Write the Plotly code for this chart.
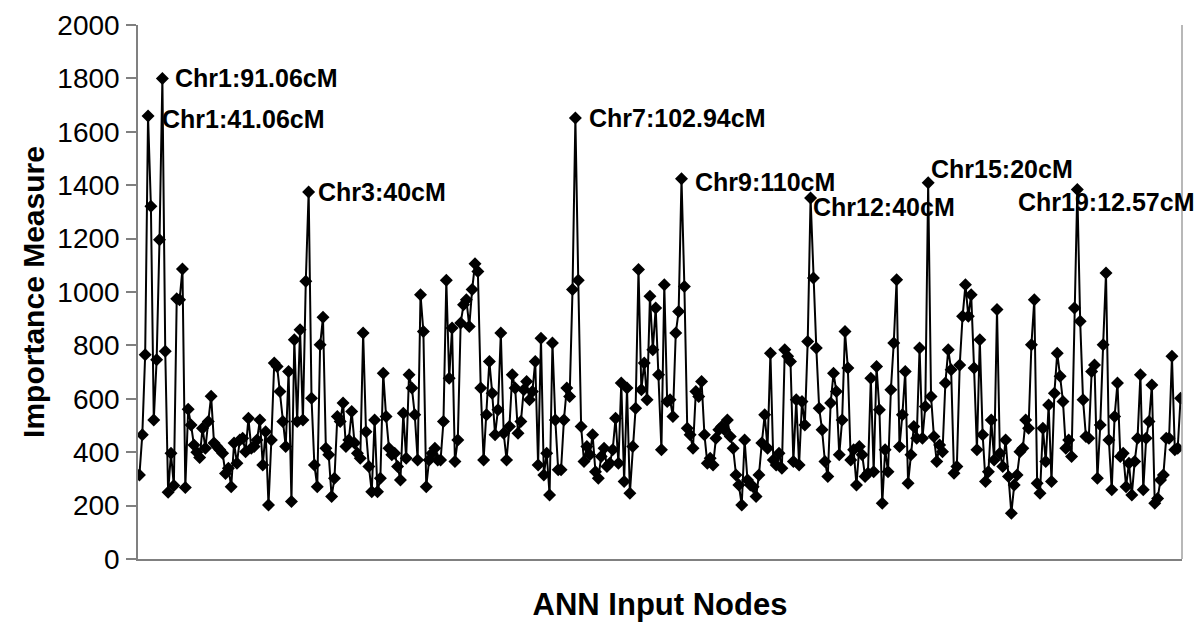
import plotly.graph_objects as go

# Importance measure per ANN input node, read left to right in blocks
block_a = [315, 465, 765, 1659, 1321, 521, 746, 1196, 1800, 778, 250, 396, 275, 975, 971,
           1086, 268, 561, 502, 427, 400, 380, 490, 415, 515, 610, 434, 421, 409, 396]
block_b = [320, 340, 271, 434, 359, 446, 452, 402, 527, 415, 421, 446, 521, 352, 477,
           202, 446, 734, 721, 627, 515, 421, 702, 215, 821, 515, 859, 521, 1040, 1375,
           602, 352, 271, 802, 905]
block_c = [415, 390, 234, 302, 534, 515, 584, 421, 446, 552, 434, 396, 377, 846, 477,
           346, 252, 521, 252, 302, 696, 534, 415, 390, 396, 346, 296, 546, 377, 690,
           640, 540, 371, 990, 852]
block_d = [271, 371, 396, 415, 371, 371, 515, 1044, 677, 865, 365, 446, 884, 952, 971,
           871, 1009, 1106, 1077, 640, 371, 540, 740, 621, 465, 559, 846, 471, 371, 496,
           690, 640]
block_e = [471, 515, 634, 665, 596, 627, 740, 352, 827, 315, 396, 240, 809, 521, 334,
           334, 521, 640, 609, 1009, 1652, 1044, 496, 365, 421, 390, 465, 327, 302, 384,
           415, 346]
block_f = [359, 409, 527, 359, 659, 290, 640, 246, 421, 565, 1084, 634, 734, 596, 984,
           784, 940, 690, 409, 1027, 590, 596, 534, 846, 927, 1424, 1021, 490, 465, 415,
           627, 609, 665, 465]
block_g = [359, 377, 352, 452, 484, 496, 484, 521, 459, 415, 315, 277, 202, 446, 296,
           277, 271, 234, 315, 434, 540, 415, 771, 371, 352, 396, 340, 784, 759, 740,
           365, 596]
block_h = [352, 590, 502, 815, 1352, 1052, 790, 565, 484, 365, 309, 584, 696, 627, 390,
           521, 852, 715, 371, 409, 277, 421, 390, 309, 321, 677, 327, 721, 559, 209,
           409, 327, 634, 809, 1046]
block_i = [421, 540, 702, 284, 390, 496, 452, 790, 452, 571, 1409, 609, 459, 365, 427,
           402, 659, 784, 709, 321, 346, 727, 909, 1027, 909, 990, 715, 409, 821, 465,
           290, 327, 521]
block_j = [371, 934, 396, 346, 446, 309, 171, 277, 315, 402, 415, 521, 490, 802, 971,
           284, 246, 490, 365, 577, 290, 621, 771, 684, 590, 415, 446, 384, 940, 1384,
           890, 596, 459]
block_k = [452, 702, 727, 302, 502, 802, 1071, 446, 259, 534, 659, 384, 396, 271, 359,
           240, 365, 452, 690, 259, 452, 515, 652, 209, 227, 296, 315, 452, 452, 759,
           409, 415, 602]

importance = (block_a + block_b + block_c + block_d + block_e + block_f + block_g +
              block_h + block_i + block_j + block_k)
nodes = list(range(1, len(importance) + 1))

# Labelled peaks (node number, label)
peak_nodes = [9, 4, 60, 153, 190, 235, 276, 328]
peak_labels = ["Chr1:91.06cM", "Chr1:41.06cM", "Chr3:40cM", "Chr7:102.94cM",
               "Chr9:110cM", "Chr12:40cM", "Chr15:20cM", "Chr19:12.57cM"]
y_ticks = [0, 200, 400, 600, 800, 1000, 1200, 1400, 1600, 1800, 2000]

# label offsets in pixels (style)
label_shift = [(11, 0), (12, -3), (7, 0), (12, 0), (11, -3), (0, -9), (1, 14), (-61, -13)]

fig = go.Figure()
fig.add_trace(go.Scatter(
    x=nodes, y=importance, mode="lines+markers",
    line=dict(color="black", width=2),
    marker=dict(symbol="diamond", size=10, color="black"),
    showlegend=False, hoverinfo="x+y"))

for n, lab, (dx, dy) in zip(peak_nodes, peak_labels, label_shift):
    fig.add_annotation(x=n, y=importance[n - 1], text=lab, showarrow=False,
                       xanchor="left", yanchor="middle", xshift=dx, yshift=dy,
                       font=dict(family="Arial, Liberation Sans, sans-serif",
                                 size=25, color="black", weight="bold"))

fig.add_shape(type="line", xref="paper", yref="paper", x0=1, x1=1, y0=0, y1=1,
              line=dict(color="#a0a0a0", width=1.5))

fig.update_layout(
    width=1200, height=630,
    paper_bgcolor="white", plot_bgcolor="white",
    margin=dict(l=138, r=18, t=25, b=71, autoexpand=False),
    font=dict(family="Arial, Liberation Sans, sans-serif", color="black"),
    xaxis=dict(range=[0.5, len(importance) + 0.5], showticklabels=False,
               ticks="", showgrid=False, zeroline=False, showline=True,
               linecolor="#808080", linewidth=1.5, automargin=False,
               title=dict(text="<b>ANN Input Nodes</b>", font=dict(size=31),
                          standoff=34)),
    yaxis=dict(range=[0, 2000], tickvals=y_ticks, ticks="outside", ticklen=10,
               tickcolor="#808080", tickwidth=1.5, showgrid=False, zeroline=False,
               showline=True, linecolor="#808080", linewidth=1.5, automargin=False,
               tickfont=dict(size=28), ticklabelstandoff=1,
               title=dict(text="<b>Importance Measure</b>", font=dict(size=30),
                          standoff=4)),
)

# remove the browser's default body margin so the figure fills the window exactly
fig.write_html("out.html",
               config={"displayModeBar": False},
               post_script="document.body.style.margin='0';"
                           "document.body.style.overflow='hidden';")
